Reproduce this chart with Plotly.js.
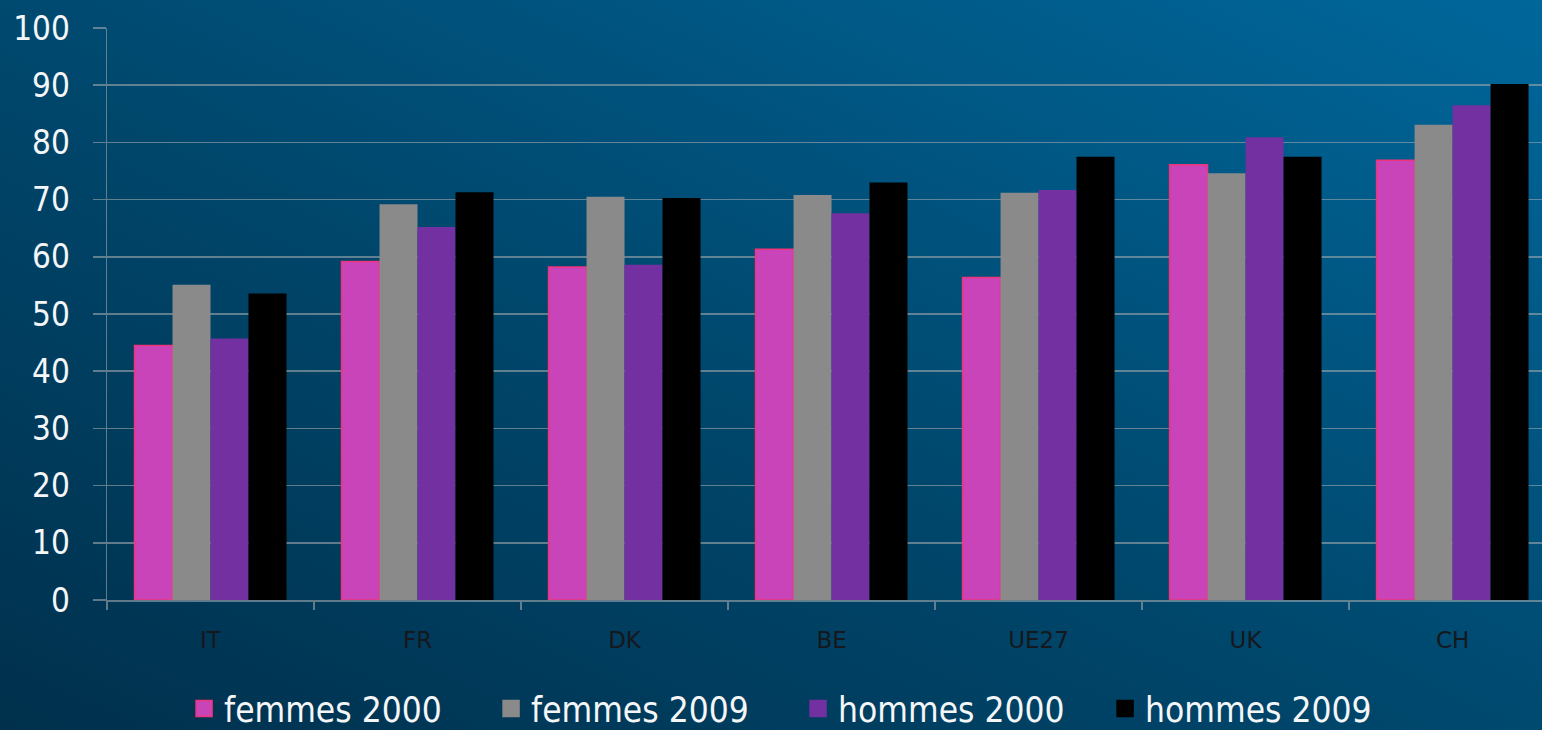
<!DOCTYPE html>
<html>
<head>
<meta charset="utf-8">
<script src="https://cdn.plot.ly/plotly-3.0.1.min.js"></script>
<style>
  html, body { margin: 0; padding: 0; }
  body {
    width: 1542px; height: 730px; overflow: hidden;
    background: linear-gradient(to top right, #00304c 0%, #00466b 45%, #00679b 100%);
  }
  #chart { width: 1542px; height: 730px; }
</style>
</head>
<body>
<div id="chart"></div>
<script>
const categories = ["IT", "FR", "DK", "BE", "UE27", "UK", "CH"];
const femmes2000 = [44.5, 59.2, 58.2, 61.3, 56.4, 76.1, 76.9];
const femmes2009 = [55.1, 69.2, 70.5, 70.8, 71.2, 74.6, 83.1];
const hommes2000 = [45.7, 65.2, 58.6, 67.6, 71.7, 80.9, 86.5];
const hommes2009 = [53.6, 71.3, 70.3, 73.0, 77.5, 77.5, 90.2];
const seriesNames = ["femmes 2000", "femmes 2009", "hommes 2000", "hommes 2009"];
const yTicks = [0, 10, 20, 30, 40, 50, 60, 70, 80, 90, 100];

const colors = ["#c944b9", "#8a8a8a", "#7230a1", "#000000"];
const lineColors = ["#f0347a", "#8a8a8a", "#7230a1", "#000000"];
const lineWidths = [1.5, 0, 0, 0];
const values = [femmes2000, femmes2009, hommes2000, hommes2009];

const traces = [];
values.forEach((v, i) => {
  traces.push({
    type: "bar", x: categories, y: v, name: seriesNames[i],
    marker: { color: colors[i], line: { color: lineColors[i], width: lineWidths[i] } },
    showlegend: false, hoverinfo: "x+y+name"
  });
});
values.forEach((v, i) => {
  traces.push({
    type: "scatter", mode: "markers", x: [null], y: [null], name: seriesNames[i],
    marker: { symbol: "square", size: 16, color: colors[i],
              line: { color: i === 0 ? lineColors[0] : colors[i], width: 1.5 } },
    showlegend: true, hoverinfo: "skip"
  });
});

const gridColor = "rgba(160,168,172,0.6)";
const fontFam = "DejaVu Sans Condensed, DejaVu Sans, sans-serif";

const layout = {
  width: 1542, height: 730,
  margin: { l: 107, r: 0, t: 28, b: 130, autoexpand: false },
  paper_bgcolor: "rgba(0,0,0,0)",
  plot_bgcolor: "rgba(0,0,0,0)",
  barmode: "group", bargap: 0.266, bargroupgap: 0,
  xaxis: {
    type: "category",
    range: [-0.5, 6.432],
    showgrid: false, showline: true, linecolor: gridColor, linewidth: 1.5,
    ticks: "outside", tickson: "boundaries", ticklen: 8, tickcolor: gridColor, tickwidth: 1.5,
    tickfont: { family: "DejaVu Sans, sans-serif", size: 23, color: "#15181c" },
    ticklabelstandoff: 19,
    fixedrange: true
  },
  yaxis: {
    range: [0, 100], tickvals: yTicks, ticktext: yTicks.map(String),
    showgrid: true, gridcolor: gridColor, gridwidth: 1.5,
    zeroline: false,
    showline: true, linecolor: gridColor, linewidth: 1.5,
    ticks: "outside", ticklen: 13, tickcolor: gridColor, tickwidth: 1.5,
    tickfont: { family: fontFam, size: 33, color: "#f4f6f8" },
    ticklabelstandoff: 16,
    fixedrange: true
  },
  legend: {
    orientation: "h", x: 0.0537, xanchor: "left",
    y: -0.19, yanchor: "middle",
    font: { family: fontFam, size: 35, color: "#f4f6f8" },
    entrywidth: 262, entrywidthmode: "pixels",
    bgcolor: "rgba(0,0,0,0)", itemclick: false
  },
  showlegend: true
};

Plotly.newPlot("chart", traces, layout, { displayModeBar: false, staticPlot: true });
</script>
</body>
</html>
